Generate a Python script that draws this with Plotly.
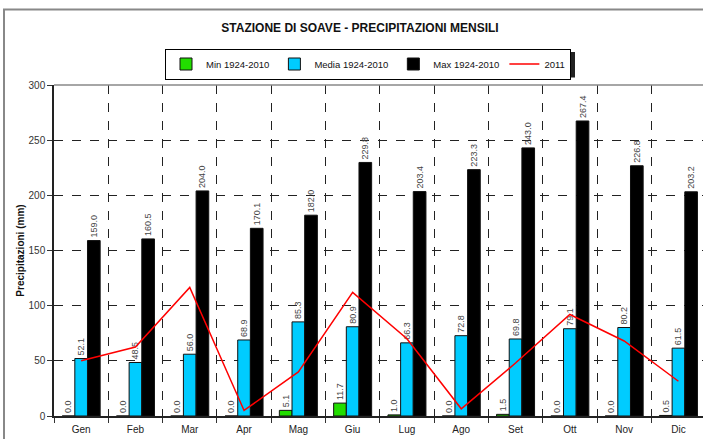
import plotly.graph_objects as go

months = ["Gen", "Feb", "Mar", "Apr", "Mag", "Giu", "Lug", "Ago", "Set", "Ott", "Nov", "Dic"]
min_vals = [0.0, 0.0, 0.0, 0.0, 5.1, 11.7, 1.0, 0.0, 1.5, 0.0, 0.0, 0.5]
media_vals = [52.1, 48.5, 56.0, 68.9, 85.3, 80.9, 66.3, 72.8, 69.8, 79.1, 80.2, 61.5]
max_vals = [159.0, 160.5, 204.0, 170.1, 182.0, 229.8, 203.4, 223.3, 243.0, 267.4, 226.8, 203.2]
y2011 = [50.0, 62.5, 116.5, 5.0, 40.0, 112.0, 70.0, 6.5, 48.0, 92.0, 68.0, 31.5]
yticks = [0, 50, 100, 150, 200, 250, 300]

FONT = "Liberation Sans, Arial, sans-serif"
W, H = 703, 439
L, T, B = 54, 85, 23
plot_w = W - L
plot_h = H - T - B
cat_w = 54.3
x_end = -0.5 + plot_w / cat_w

def bar(name, vals, color):
    return go.Bar(
        name=name, x=months, y=vals,
        marker=dict(color=color, line=dict(color="#111111", width=1)),
        text=[f"{v:.1f}" for v in vals], textposition="outside", textangle=-90,
        textfont=dict(size=9, color="#444444", family=FONT),
        constraintext="none", cliponaxis=False,
    )

fig = go.Figure()
fig.add_trace(bar("Min 1924-2010", min_vals, "#22DD00"))
fig.add_trace(bar("Media 1924-2010", media_vals, "#00CCFF"))
fig.add_trace(bar("Max 1924-2010", max_vals, "#000000"))
fig.add_trace(go.Scatter(name="2011", x=months, y=y2011, mode="lines",
                         line=dict(color="#FF0000", width=1.5)))

def px_x(p):
    return (p - L) / plot_w

def px_y(p):
    return (H - B - p) / plot_h

# outer frame
fig.add_shape(type="rect", xref="paper", yref="paper",
              x0=px_x(4), x1=px_x(760), y0=px_y(500), y1=px_y(9.5),
              line=dict(color="#888888", width=2), layer="below")
# top border of plot area
fig.add_shape(type="line", xref="paper", yref="paper",
              x0=0, x1=1.05, y0=1, y1=1, line=dict(color="#888888", width=1.5))
# legend shadow
fig.add_shape(type="rect", xref="paper", yref="paper",
              x0=px_x(168), x1=px_x(575), y0=px_y(77.5), y1=px_y(52),
              line=dict(width=0), fillcolor="#222222", layer="below")

fig.update_layout(
    width=W, height=H,
    margin=dict(l=L, r=0, t=T, b=B, autoexpand=False),
    paper_bgcolor="white", plot_bgcolor="white",
    font=dict(family=FONT, size=10, color="#222222"),
    barmode="group", bargap=0.3, bargroupgap=0.0,
    title=dict(text="<b>STAZIONE DI SOAVE - PRECIPITAZIONI MENSILI</b>",
               x=360 / W, xanchor="center", xref="container",
               y=1 - 28 / H, yanchor="middle", yref="container",
               font=dict(size=12, color="#111111", family=FONT)),
    legend=dict(orientation="h", xref="container", yref="container",
                x=165 / W, xanchor="left", y=1 - 48.5 / H, yanchor="top",
                bgcolor="#ffffff", bordercolor="#000000", borderwidth=1,
                font=dict(size=9.5, color="#111111", family=FONT),
                itemwidth=30, tracegroupgap=0),
    showlegend=True,
    xaxis=dict(type="category", range=[-0.5, x_end], tickson="boundaries",
               ticks="outside", ticklen=5, tickcolor="#333333",
               ticklabelstandoff=3,
               showgrid=True, gridcolor="#222222", griddash="dash", gridwidth=1,
               showline=True, linecolor="#222222", linewidth=1.5,
               tickfont=dict(size=10, color="#222222"), fixedrange=True),
    yaxis=dict(range=[0, 300], tickvals=yticks, ticks="outside", ticklen=5,
               tickcolor="#333333",
               showgrid=True, gridcolor="#222222", griddash="dash", gridwidth=1,
               showline=True, linecolor="#222222", linewidth=1.5,
               zeroline=False,
               tickfont=dict(size=10, color="#333333"),
               title=dict(text="<b>Precipitazioni (mm)</b>", standoff=2,
                          font=dict(size=10, color="#111111"))),
)

fig.write_html("out.html", config={"displayModeBar": False},
               post_script="document.body.style.margin='0';document.body.style.overflow='hidden';")
